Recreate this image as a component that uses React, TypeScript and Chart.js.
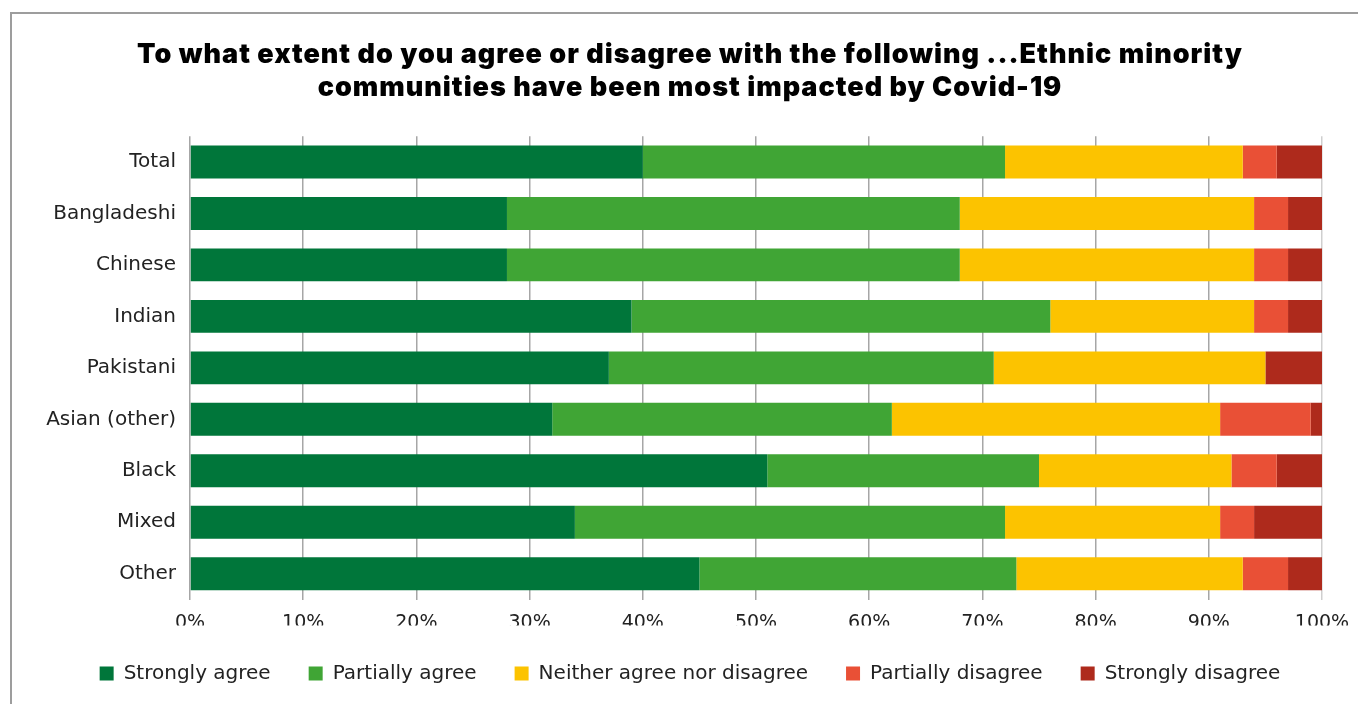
import React, { useEffect, useRef } from "react";
import { Chart, registerables } from "chart.js";

Chart.register(...registerables);

const categories = ["Total", "Bangladeshi", "Chinese", "Indian", "Pakistani", "Asian (other)", "Black", "Mixed", "Other"];
const stronglyAgree = [40, 28, 28, 39, 37, 32, 51, 34, 45];
const partiallyAgree = [32, 40, 40, 37, 34, 30, 24, 38, 28];
const neitherAgree = [21, 26, 26, 18, 24, 29, 17, 19, 20];
const partiallyDisagree = [3, 3, 3, 3, 0, 8, 4, 3, 4];
const stronglyDisagree = [4, 3, 3, 3, 5, 1, 4, 6, 3];
const seriesNames = ["Strongly agree", "Partially agree", "Neither agree nor disagree", "Partially disagree", "Strongly disagree"];
const seriesColors = ["#00763a", "#40a535", "#fcc300", "#e95036", "#ae2a1c"];
const titleLines = [
  "To what extent do you agree or disagree with the following ...Ethnic minority",
  "communities have been most impacted by Covid-19",
];
const labelFont = "'DejaVu Sans', sans-serif";

export default function App() {
  const ref = useRef<HTMLCanvasElement | null>(null);
  useEffect(() => {
    if (!ref.current) return;
    const values = [stronglyAgree, partiallyAgree, neitherAgree, partiallyDisagree, stronglyDisagree];
    const chart = new Chart(ref.current, {
      type: "bar",
      data: {
        labels: categories,
        datasets: values.map((v, i) => ({
          label: seriesNames[i],
          data: v,
          backgroundColor: seriesColors[i],
          borderWidth: 0,
          categoryPercentage: 1,
          barPercentage: 0.64,
        })),
      },
      options: {
        indexAxis: "y",
        responsive: false,
        animation: false,
        devicePixelRatio: 1,
        layout: { padding: { left: 0, right: 0, top: 0, bottom: 10.5 } },
        scales: {
          x: {
            stacked: true,
            min: 0,
            max: 100,
            afterFit: (s: any) => {
              s.height = 26;
              s.paddingRight = 46;
            },
            grid: {
              color: (c: any) => (c.tick && c.tick.value === 100 ? "#cfcfcf" : "#a6a6a6"),
              lineWidth: 1.5,
              drawTicks: false,
            },
            border: { display: false },
            ticks: {
              stepSize: 10,
              padding: 12,
              color: "#222",
              font: { family: labelFont, size: 19 },
              callback: (v: any) => v + "%",
            },
          },
          y: {
            stacked: true,
            afterFit: (s: any) => {
              s.width = 178;
            },
            grid: { display: false, drawTicks: false },
            border: { display: false },
            ticks: { padding: 14, color: "#222", font: { family: labelFont, size: 20 } },
          },
        },
        plugins: {
          tooltip: { enabled: false },
          title: {
            display: true,
            text: titleLines,
            color: "#000",
            font: { family: "Inter, sans-serif", size: 27, weight: "900", lineHeight: 1.2 },
            padding: { top: 25, bottom: 32.4 },
          },
          legend: {
            position: "bottom",
            labels: {
              boxWidth: 14,
              boxHeight: 14,
              padding: 38,
              color: "#222",
              font: { family: labelFont, size: 20 },
            },
          },
        },
      },
    });
    const tb = (chart as any).titleBlock;
    if (tb) {
      const orig = tb.draw.bind(tb);
      tb.draw = (...args: any[]) => {
        const c = chart.ctx as any;
        const prev = c.letterSpacing;
        c.letterSpacing = "1px";
        orig(...args);
        c.letterSpacing = prev || "0px";
      };
      chart.draw();
    }
    return () => chart.destroy();
  }, []);
  return (
    <div style={{ position: "fixed", left: 0, top: 0, width: 1358, height: 704, overflow: "hidden", background: "#fff" }}>
      <div
        style={{
          position: "absolute",
          left: 10,
          top: 12,
          width: 1360,
          height: 720,
          border: "2px solid #9d9d9d",
          boxSizing: "border-box",
        }}
      >
        <canvas ref={ref} width={1356} height={690} style={{ display: "block", width: 1356, height: 690 }} />
      </div>
    </div>
  );
}
